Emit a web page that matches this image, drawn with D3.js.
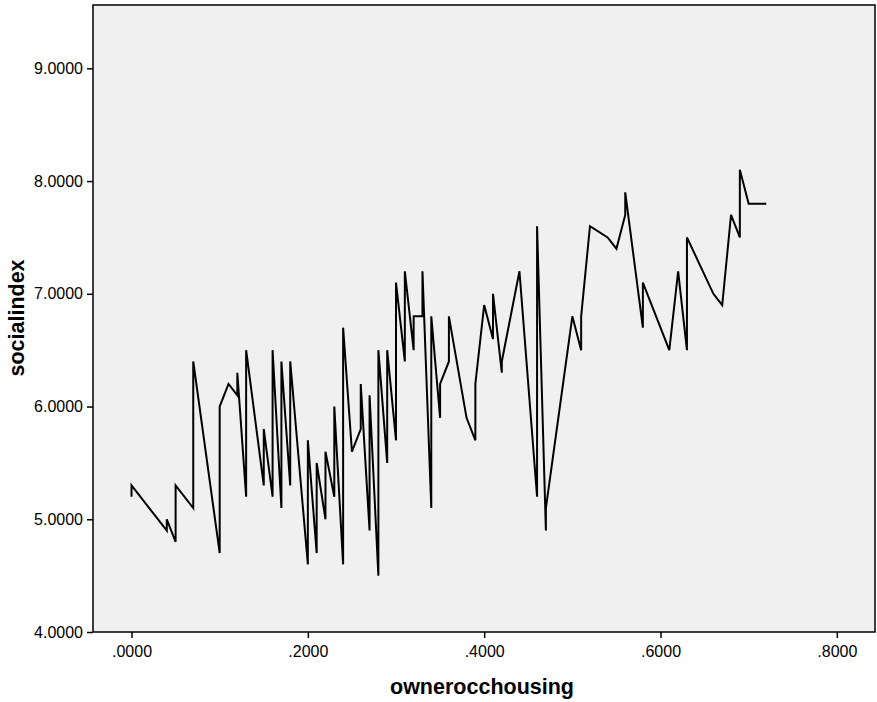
<!DOCTYPE html>
<html>
<head>
<meta charset="utf-8">
<script src="https://cdn.jsdelivr.net/npm/d3@7"></script>
<style>
  body { margin: 0; background: #fff; }
  svg { display: block; font-family: "Liberation Sans", Arial, sans-serif; }
</style>
</head>
<body>
<div id="chart"></div>
<script>
// ownerocchousing (x) and socialindex (y), in drawing order
const ownerOcc = [
  0.00, 0.00, 0.04, 0.04, 0.05, 0.05, 0.07, 0.07, 0.10, 0.10,
  0.11, 0.12, 0.12, 0.13, 0.13, 0.15, 0.15, 0.16, 0.16, 0.17,
  0.17, 0.18, 0.18, 0.20, 0.20, 0.21, 0.21, 0.22, 0.22, 0.23,
  0.23, 0.24, 0.24, 0.25, 0.26, 0.26, 0.27, 0.27, 0.28, 0.28,
  0.29, 0.29, 0.30, 0.30, 0.31, 0.31, 0.32, 0.32, 0.33, 0.33,
  0.34, 0.34, 0.35, 0.35, 0.36, 0.36, 0.38, 0.39, 0.39, 0.40,
  0.41, 0.41, 0.42, 0.42, 0.44, 0.46, 0.46, 0.47, 0.47, 0.50,
  0.51, 0.51, 0.52, 0.54, 0.55, 0.56, 0.56, 0.58, 0.58, 0.61,
  0.62, 0.63, 0.63, 0.66, 0.67, 0.68, 0.69, 0.69, 0.70, 0.72
];
const socialIndex = [
  5.2, 5.3, 4.9, 5.0, 4.8, 5.3, 5.1, 6.4, 4.7, 6.0,
  6.2, 6.1, 6.3, 5.2, 6.5, 5.3, 5.8, 5.2, 6.5, 5.1,
  6.4, 5.3, 6.4, 4.6, 5.7, 4.7, 5.5, 5.0, 5.6, 5.2,
  6.0, 4.6, 6.7, 5.6, 5.8, 6.2, 4.9, 6.1, 4.5, 6.5,
  5.5, 6.5, 5.7, 7.1, 6.4, 7.2, 6.5, 6.8, 6.8, 7.2,
  5.1, 6.8, 5.9, 6.2, 6.4, 6.8, 5.9, 5.7, 6.2, 6.9,
  6.6, 7.0, 6.3, 6.4, 7.2, 5.2, 7.6, 4.9, 5.1, 6.8,
  6.5, 6.8, 7.6, 7.5, 7.4, 7.7, 7.9, 6.7, 7.1, 6.5,
  7.2, 6.5, 7.5, 7.0, 6.9, 7.7, 7.5, 8.1, 7.8, 7.8
];
const xTicks = [0, 0.2, 0.4, 0.6, 0.8];
const yTicks = [4, 5, 6, 7, 8, 9];
const xTitle = "ownerocchousing";
const yTitle = "socialindex";

const width = 877;
const height = 702;
const marginTop = 5;
const marginRight = 2;
const marginBottom = 70;
const marginLeft = 93;

const points = ownerOcc.map((d, i) => [d, socialIndex[i]]);

const x = d3.scaleLinear()
    .domain([-0.0437, 0.8433])
    .range([marginLeft, width - marginRight]);

const y = d3.scaleLinear()
    .domain([4, 9.562])
    .range([height - marginBottom, marginTop]);

const svg = d3.create("svg")
    .attr("width", width)
    .attr("height", height)
    .attr("viewBox", [0, 0, width, height]);

// Plot background
svg.append("rect")
    .attr("x", marginLeft)
    .attr("y", marginTop)
    .attr("width", width - marginRight - marginLeft)
    .attr("height", height - marginBottom - marginTop)
    .attr("fill", "#f0f0f0");

// The line
const line = d3.line()
    .x(d => x(d[0]))
    .y(d => y(d[1]));

svg.append("path")
    .datum(points)
    .attr("fill", "none")
    .attr("stroke", "#000")
    .attr("stroke-width", 2)
    .attr("stroke-linejoin", "miter")
    .attr("d", line);

// Frame
svg.append("rect")
    .attr("x", marginLeft)
    .attr("y", marginTop)
    .attr("width", width - marginRight - marginLeft)
    .attr("height", height - marginBottom - marginTop)
    .attr("fill", "none")
    .attr("stroke", "#000")
    .attr("stroke-width", 1.5);

// Axes
const fmtX = d => d3.format(".4f")(d).replace(/^0/, "");
const fmtY = d3.format(".4f");

const xAxis = svg.append("g")
    .attr("transform", `translate(0,${height - marginBottom})`)
    .call(d3.axisBottom(x).tickValues(xTicks).tickFormat(fmtX).tickSize(6).tickPadding(8).tickSizeOuter(0));

const yAxis = svg.append("g")
    .attr("transform", `translate(${marginLeft},0)`)
    .call(d3.axisLeft(y).tickValues(yTicks).tickFormat(fmtY).tickSize(6).tickPadding(4).tickSizeOuter(0));

[xAxis, yAxis].forEach(g => {
  g.select(".domain").remove();
  g.selectAll(".tick line").attr("stroke", "#000").attr("stroke-width", 1.5);
  g.selectAll(".tick text")
      .attr("fill", "#000")
      .style("font-size", "16px")
      .style("font-family", "'Liberation Sans', Arial, sans-serif");
});

// Axis titles
svg.append("text")
    .attr("x", 482)
    .attr("y", 694)
    .attr("text-anchor", "middle")
    .style("font-size", "21.5px")
    .style("font-weight", "bold")
    .text(xTitle);

svg.append("text")
    .attr("transform", "translate(24,318) rotate(-90)")
    .attr("text-anchor", "middle")
    .style("font-size", "21.5px")
    .style("font-weight", "bold")
    .text(yTitle);

document.getElementById("chart").appendChild(svg.node());
</script>
</body>
</html>
